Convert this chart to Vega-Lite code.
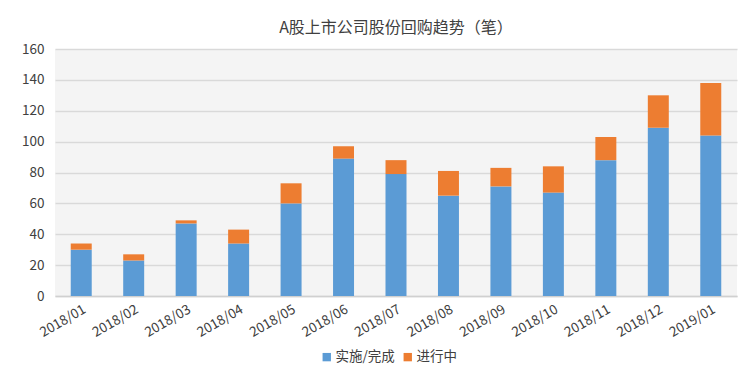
{
  "$schema": "https://vega.github.io/schema/vega-lite/v6.json",
  "autosize": "none",
  "width": 682,
  "height": 247,
  "padding": {"left": 55, "top": 49, "right": 10, "bottom": 78},
  "background": "#ffffff",
  "title": {
    "text": "A股上市公司股份回购趋势（笔）",
    "fontSize": 16,
    "font": "Noto Sans CJK SC",
    "fontWeight": "normal",
    "color": "#404040",
    "offset": 6,
    "anchor": "middle"
  },
  "config": {
    "font": "Noto Sans CJK SC",
    "view": {"stroke": null, "fill": "#f4f4f4"}
  },
  "data": {
    "values": [
      {"month": "2018/01", "status": "实施/完成", "k": 1, "n": 30},
      {"month": "2018/01", "status": "进行中", "k": 2, "n": 4},
      {"month": "2018/02", "status": "实施/完成", "k": 1, "n": 23},
      {"month": "2018/02", "status": "进行中", "k": 2, "n": 4},
      {"month": "2018/03", "status": "实施/完成", "k": 1, "n": 47},
      {"month": "2018/03", "status": "进行中", "k": 2, "n": 2},
      {"month": "2018/04", "status": "实施/完成", "k": 1, "n": 34},
      {"month": "2018/04", "status": "进行中", "k": 2, "n": 9},
      {"month": "2018/05", "status": "实施/完成", "k": 1, "n": 60},
      {"month": "2018/05", "status": "进行中", "k": 2, "n": 13},
      {"month": "2018/06", "status": "实施/完成", "k": 1, "n": 89},
      {"month": "2018/06", "status": "进行中", "k": 2, "n": 8},
      {"month": "2018/07", "status": "实施/完成", "k": 1, "n": 79},
      {"month": "2018/07", "status": "进行中", "k": 2, "n": 9},
      {"month": "2018/08", "status": "实施/完成", "k": 1, "n": 65},
      {"month": "2018/08", "status": "进行中", "k": 2, "n": 16},
      {"month": "2018/09", "status": "实施/完成", "k": 1, "n": 71},
      {"month": "2018/09", "status": "进行中", "k": 2, "n": 12},
      {"month": "2018/10", "status": "实施/完成", "k": 1, "n": 67},
      {"month": "2018/10", "status": "进行中", "k": 2, "n": 17},
      {"month": "2018/11", "status": "实施/完成", "k": 1, "n": 88},
      {"month": "2018/11", "status": "进行中", "k": 2, "n": 15},
      {"month": "2018/12", "status": "实施/完成", "k": 1, "n": 109},
      {"month": "2018/12", "status": "进行中", "k": 2, "n": 21},
      {"month": "2019/01", "status": "实施/完成", "k": 1, "n": 104},
      {"month": "2019/01", "status": "进行中", "k": 2, "n": 34}
    ]
  },
  "mark": {"type": "bar"},
  "encoding": {
    "x": {
      "field": "month",
      "type": "ordinal",
      "title": null,
      "scale": {"paddingInner": 0.6, "paddingOuter": 0.3},
      "axis": {
        "labelAngle": -30,
        "labelAlign": "right",
        "labelBaseline": "top",
        "labelFontSize": 13.5,
        "labelColor": "#404040",
        "labelPadding": 6,
        "ticks": false,
        "domain": true,
        "domainColor": "#d0d0d0",
        "domainWidth": 1.5
      }
    },
    "y": {
      "field": "n",
      "type": "quantitative",
      "title": null,
      "stack": "zero",
      "scale": {"domain": [0, 160]},
      "axis": {
        "values": [0, 20, 40, 60, 80, 100, 120, 140, 160],
        "labelFontSize": 13.5,
        "labelColor": "#404040",
        "labelPadding": 11,
        "ticks": false,
        "domain": false,
        "gridColor": "#d9d9d9",
        "gridWidth": 1.5
      }
    },
    "color": {
      "field": "status",
      "type": "nominal",
      "sort": ["实施/完成", "进行中"],
      "scale": {"domain": ["实施/完成", "进行中"], "range": ["#5b9bd5", "#ed7d31"]},
      "legend": {
        "title": null,
        "orient": "none",
        "direction": "horizontal",
        "legendX": 265,
        "legendY": 301,
        "symbolType": "square",
        "symbolSize": 70,
        "labelFontSize": 13.5,
        "labelColor": "#404040",
        "columnPadding": 6,
        "labelOffset": 2
      }
    },
    "order": {"field": "k", "type": "quantitative"}
  }
}
